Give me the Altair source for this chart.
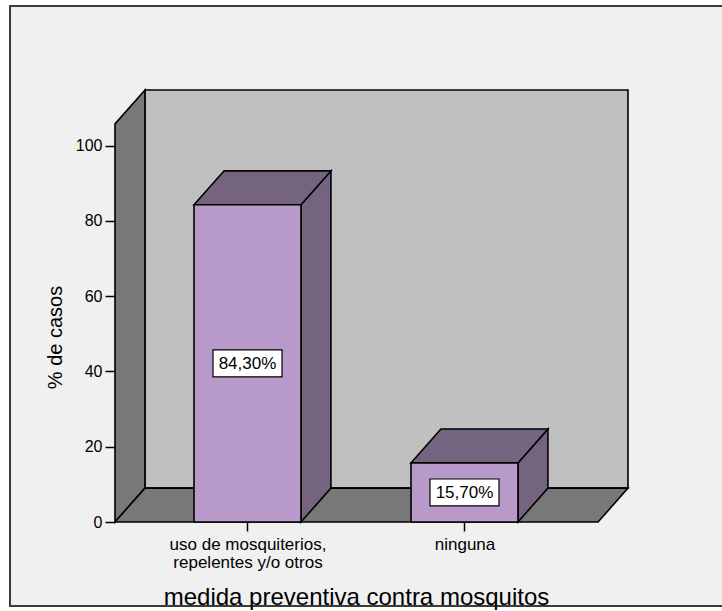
import json
import altair as alt
import pandas as pd

# ---------------- data ----------------
categories = ["uso de mosquiterios,\nrepelentes y/o otros", "ninguna"]
values = [84.3, 15.7]
value_labels = ["84,30%", "15,70%"]
y_ticks = [0, 20, 40, 60, 80, 100]

# ---------------- geometry / style constants ----------------
X_MIN, X_MAX = 0.3894, 2.7535     # horizontal extent of the 3D box (category units)
DX = 0.138                        # depth offset, x (category units)
DY = 9.0                          # depth offset, y (value units)
Y_FRONT_TOP = 105.8               # top of the front axis / left wall
Y_MAX = Y_FRONT_TOP + DY          # top of the back wall
HALF = 0.2465                     # half bar width (category units)

W, H = 513, 432
FONT = "Liberation Sans"
BACK = "#C0C0C0"
WALL = "#787878"
BAR_FRONT = "#B89ACA"
BAR_SIDE = "#75647F"
SW = 1.6

xs = alt.Scale(domain=[X_MIN, X_MAX], nice=False, zero=False)
ys = alt.Scale(domain=[0, Y_MAX], nice=False, zero=False)

pos = [i + 1 for i in range(len(categories))]
lines = [c.split("\n") for c in categories]
label_expr = json.dumps(lines) + "[datum.value - 1]"

x_axis = alt.Axis(
    values=pos, labelExpr=label_expr, tickSize=9, tickWidth=1.5, tickColor="black",
    domain=False, grid=False, labelFontSize=17, labelColor="black", labelFont=FONT,
    labelPadding=5, labelLineHeight=18, labelOverlap=False, labelFlush=False,
    title="medida preventiva contra mosquitos", titleFont=FONT, titleFontSize=24,
    titleFontWeight="normal", titleColor="black",
    titleX=241, titleY=82, titleBaseline="alphabetic", titleAlign="center",
    zindex=1,
)
y_axis = alt.Axis(
    values=y_ticks, tickSize=10, tickWidth=1.5, tickColor="black", domain=False,
    grid=False, labelFontSize=16, labelColor="black", labelFont=FONT, labelPadding=3,
    title="% de casos", titleFont=FONT, titleFontSize=20, titleFontWeight="normal",
    titleColor="black", titleX=-60, titleY=247, titleAngle=270,
    titleBaseline="middle", titleAlign="center", zindex=1,
)

# outer frame
frame = alt.Chart(pd.DataFrame({"a": [0]})).mark_rect(
    fill="#F0F0F0", stroke="#3C3C3C", strokeWidth=2
).encode(
    x=alt.value(-105), x2=alt.value(W + 110), y=alt.value(-84), y2=alt.value(516)
)

# back wall
back_df = pd.DataFrame({"x": [X_MIN + DX], "x2": [X_MAX], "y": [DY], "y2": [Y_MAX]})
back = alt.Chart(back_df).mark_rect(fill=BACK, stroke="black", strokeWidth=SW).encode(
    x=alt.X("x:Q", scale=xs, axis=x_axis), x2="x2:Q",
    y=alt.Y("y:Q", scale=ys, axis=y_axis), y2="y2:Q",
)

# left wall (vertical parallelogram)
left_df = pd.DataFrame({"x": [X_MIN, X_MIN + DX], "y": [0, DY],
                        "y2": [Y_FRONT_TOP, Y_FRONT_TOP + DY]})
left = alt.Chart(left_df).mark_area(fill=WALL, stroke="black", strokeWidth=SW,
                                    opacity=1).encode(
    x=alt.X("x:Q", scale=xs), y=alt.Y("y:Q", scale=ys, stack=False), y2="y2:Q",
)

# floor (horizontal parallelogram)
floor_df = pd.DataFrame({"y": [0, DY], "x": [X_MIN, X_MIN + DX],
                         "x2": [X_MAX - DX, X_MAX]})
floor = alt.Chart(floor_df).mark_area(orient="horizontal", fill=WALL, stroke="black",
                                      strokeWidth=SW, opacity=1).encode(
    y=alt.Y("y:Q", scale=ys), x=alt.X("x:Q", scale=xs, stack=False), x2="x2:Q",
)

# bars
side_rows, top_rows, front_rows, lab_rows = [], [], [], []
for i, (p, v, lab) in enumerate(zip(pos, values, value_labels)):
    side_rows += [{"bar": i, "x": p + HALF, "y": 0, "y2": v},
                  {"bar": i, "x": p + HALF + DX, "y": DY, "y2": v + DY}]
    top_rows += [{"bar": i, "y": v, "x": p - HALF, "x2": p + HALF},
                 {"bar": i, "y": v + DY, "x": p - HALF + DX, "x2": p + HALF + DX}]
    front_rows.append({"x": p - HALF, "x2": p + HALF, "y": 0, "y2": v})
    lab_rows.append({"x": p, "y": v / 2, "label": lab})

side = alt.Chart(pd.DataFrame(side_rows)).mark_area(
    fill=BAR_SIDE, stroke="black", strokeWidth=SW, opacity=1).encode(
    x=alt.X("x:Q", scale=xs), y=alt.Y("y:Q", scale=ys, stack=False), y2="y2:Q",
    detail="bar:N",
)
top = alt.Chart(pd.DataFrame(top_rows)).mark_area(
    orient="horizontal", fill=BAR_SIDE, stroke="black", strokeWidth=SW, opacity=1).encode(
    y=alt.Y("y:Q", scale=ys), x=alt.X("x:Q", scale=xs, stack=False), x2="x2:Q",
    detail="bar:N",
)
front = alt.Chart(pd.DataFrame(front_rows)).mark_rect(
    fill=BAR_FRONT, stroke="black", strokeWidth=SW).encode(
    x=alt.X("x:Q", scale=xs), x2="x2:Q", y=alt.Y("y:Q", scale=ys), y2="y2:Q",
)

lab_df = pd.DataFrame(lab_rows)
box = alt.Chart(lab_df).mark_point(
    shape="M-1,-0.39L1,-0.39L1,0.39L-1,0.39Z", size=69 * 69, filled=True,
    fill="white", stroke="black", strokeWidth=1.2, opacity=1).encode(
    x=alt.X("x:Q", scale=xs), y=alt.Y("y:Q", scale=ys),
)
txt = alt.Chart(lab_df).mark_text(font=FONT, fontSize=17, color="black",
                                  baseline="middle", align="center", dy=1).encode(
    x=alt.X("x:Q", scale=xs), y=alt.Y("y:Q", scale=ys), text="label:N",
)

chart = alt.layer(frame, back, left, floor, side, top, front, box, txt).properties(
    width=W, height=H,
    autosize=alt.AutoSizeParams(type="none"),
    padding={"left": 115, "top": 90, "right": 94, "bottom": 89},
    background="white",
).configure_view(stroke="transparent")

chart.save("out.html", embed_options={"renderer": "svg", "actions": False})
